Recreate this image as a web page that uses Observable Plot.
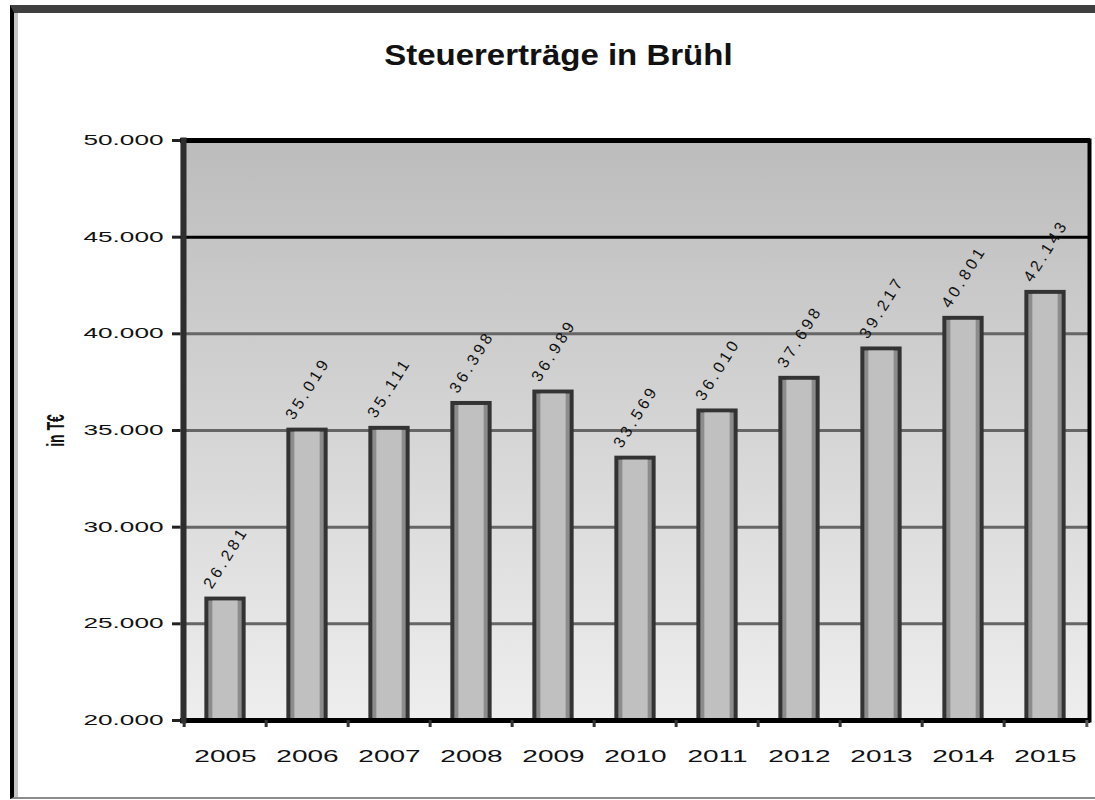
<!DOCTYPE html>
<html>
<head>
<meta charset="utf-8">
<script src="https://cdn.jsdelivr.net/npm/d3@7"></script>
<script src="https://cdn.jsdelivr.net/npm/@observablehq/plot@0.6"></script>
<style>
  html, body { margin: 0; padding: 0; background: #fff; }
  #wrap { position: relative; width: 1095px; height: 800px; overflow: hidden; font-family: "Liberation Sans", Arial, sans-serif; }
  #chart { position: absolute; left: 0; top: 0; }
  #frame { position: absolute; left: 10px; top: 5px; right: -10px; bottom: 1px; border-top: 8px solid #3f3f3f; border-left: 4px solid #000; border-bottom: 2px solid #8c8c8c; box-shadow: inset 4px 0 0 #c4c4c4; pointer-events: none; }
  #title { position: absolute; left: 0; width: 1116px; top: 40px; text-align: center; line-height: 30px; }
  #title span { display: inline-block; font-weight: bold; font-size: 30px; color: #111; transform: scaleX(1.1); }
</style>
</head>
<body>
<div id="wrap">
  <div id="chart"></div>
  <div id="frame"></div>
  <div id="title"><span>Steuererträge in Brühl</span></div>
</div>
<script>
const years = ["2005", "2006", "2007", "2008", "2009", "2010", "2011", "2012", "2013", "2014", "2015"];
const values = [26281, 35019, 35111, 36398, 36989, 33569, 36010, 37698, 39217, 40801, 42143];
const yTicks = [20000, 25000, 30000, 35000, 40000, 45000, 50000];
const grayGrid = [25000, 30000, 35000, 40000];
const blackGrid = [45000];
const yLabel = "in T€";

const data = years.map((year, i) => ({year, value: values[i]}));
const fmt = d3.formatLocale({decimal: ",", thousands: ".", grouping: [3], currency: ["", " €"]}).format(",d");
const yMin = yTicks[0];
const yMax = yTicks[yTicks.length - 1];

const step = (1090 - 180) / years.length;

const svg = Plot.plot({
  width: 1095,
  height: 800,
  marginTop: 140,
  marginBottom: 80,
  marginLeft: 180,
  marginRight: 5,
  style: {background: "transparent", fontFamily: "'Liberation Sans', Arial, sans-serif", color: "#111"},
  x: {type: "band", domain: years, padding: 0, label: null},
  y: {domain: [yMin, yMax], label: yLabel},
  marks: [
    Plot.frame({fill: "url(#plotBg)"}),
    Plot.ruleY(grayGrid, {stroke: "#666", strokeWidth: 3}),
    Plot.ruleY(blackGrid, {stroke: "#000", strokeWidth: 3}),
    Plot.ruleY([yMax], {stroke: "#000", strokeWidth: 5}),
    Plot.barY(data, {x: "year", y1: yMin, y2: "value", insetLeft: step / 2 - 19, insetRight: step / 2 - 19, fill: "#8c8c8c", stroke: "#333", strokeWidth: 4}),
    Plot.barY(data, {x: "year", y1: yMin, y2: "value", insetLeft: step / 2 - 13, insetRight: step / 2 - 13, insetTop: 2, fill: "#c0c0c0"}),
    Plot.ruleY([yMin], {stroke: "#000", strokeWidth: 5}),
    Plot.frame({anchor: "left", stroke: "#2e2e2e", strokeWidth: 6, dx: 3}),
    Plot.frame({anchor: "right", stroke: "#000", strokeWidth: 4, dx: -1}),
    Plot.ruleX(years, {x: d => d, dx: -step / 2, y1: yMin, y2: yMin, insetBottom: -7, stroke: "#333", strokeWidth: 3}),
    Plot.ruleX(years.slice(-1), {x: d => d, dx: step / 2, y1: yMin, y2: yMin, insetBottom: -7, stroke: "#555", strokeWidth: 3}),
    Plot.axisY({ticks: yTicks, tickFormat: fmt, tickSize: 8, tickPadding: 9, fontSize: 14, stroke: "#222", strokeWidth: 3, label: yLabel, labelAnchor: "center", labelArrow: "none", labelOffset: 133}),
    Plot.axisX({tickSize: 0, tickPadding: 30, fontSize: 16, label: null}),
    Plot.text(data, {x: "year", y: "value", text: d => fmt(d.value), rotate: -58, textAnchor: "start", dx: -18, dy: -12, fontSize: 16, fill: "#111"})
  ]
});

// gradient background for the plot area
const defs = d3.select(svg).insert("defs", ":first-child");
const grad = defs.append("linearGradient").attr("id", "plotBg").attr("x1", 0).attr("y1", 0).attr("x2", 0).attr("y2", 1);
grad.append("stop").attr("offset", 0).attr("stop-color", "#bcbcbc");
grad.append("stop").attr("offset", 1).attr("stop-color", "#eeeeee");

// horizontally stretched text, as in the reference
function stretch(selector, sx) {
  svg.querySelectorAll(selector).forEach(t => {
    const tr = t.getAttribute("transform") || "";
    if (/rotate/.test(tr)) t.setAttribute("transform", tr.replace(/rotate/, `scale(${sx},1) rotate`));
    else t.setAttribute("transform", `${tr} scale(${sx},1)`);
  });
}
stretch('g[aria-label="y-axis tick label"] text', 1.87);
stretch('g[aria-label="x-axis tick label"] text', 1.75);
svg.querySelectorAll('g[aria-label="y-axis label"] text').forEach(t => {
  t.setAttribute("font-weight", "bold");
  t.setAttribute("font-size", "14");
});
stretch('g[aria-label="y-axis label"] text', 1.7);
svg.querySelectorAll('g[aria-label="text"] text').forEach(t => {
  t.style.letterSpacing = "3.5px";
});

document.getElementById("chart").appendChild(svg);
</script>
</body>
</html>
